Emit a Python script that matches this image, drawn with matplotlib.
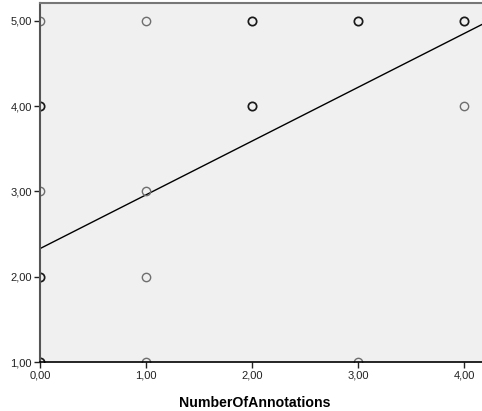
import numpy as np
import matplotlib.pyplot as plt

plt.rcParams['font.family'] = ['Liberation Sans', 'DejaVu Sans']

# observed points (x, y) and how many cases sit on each spot
annotations = [0, 0, 0, 0, 0, 1, 1, 1, 1, 2, 2, 3, 3, 4, 4]
ratings = [5, 4, 3, 2, 1, 5, 3, 2, 1, 5, 4, 5, 1, 5, 4]
counts = [1, 3, 1, 3, 3, 1, 1, 1, 1, 3, 3, 4, 1, 3, 1]

# fit line
intercept = 2.33
slope = 0.63

xticks = [0, 1, 2, 3, 4]
yticks = [1, 2, 3, 4, 5]

fig = plt.figure(figsize=(4.82, 4.11), dpi=100)
ax = fig.add_axes([0.083, 0.119, 0.917, 0.874])
ax.set_facecolor('#f0f0f0')

# darker circles where several cases overlap
for x, y, n in zip(annotations, ratings, counts):
    col = '#1a1a1a' if n > 1 else '#6e6e6e'
    lw = 1.25 if n > 1 else 1.0
    ax.plot(x, y, 'o', ms=6, mfc='none', mec=col, mew=lw, zorder=3)

xmax = 4.17
xs = np.array([0, xmax])
ax.plot(xs, intercept + slope * xs, color='black', lw=1.0, zorder=2)

ax.set_xlim(0, xmax)
ax.set_ylim(1, 5.21)
ax.set_xticks(xticks)
ax.set_yticks(yticks)
ax.set_xticklabels([f"{v:.2f}".replace('.', ',') for v in xticks])
ax.set_yticklabels([f"{v:.2f}".replace('.', ',') for v in yticks])
ax.tick_params(length=4, width=1, labelsize=8, colors='#222222', pad=2)

ax.spines['left'].set_color('#555555')
ax.spines['left'].set_linewidth(1.5)
ax.spines['top'].set_color('#777777')
ax.spines['top'].set_linewidth(1.5)
ax.spines['bottom'].set_color('black')
ax.spines['bottom'].set_linewidth(1.2)
ax.spines['right'].set_visible(False)
for s in ax.spines.values():
    s.set_zorder(4)

ax.set_xlabel('NumberOfAnnotations', fontsize=10.2, fontweight='bold')
ax.xaxis.set_label_coords(0.486, -0.095)

fig.savefig('out.png', dpi=100)
